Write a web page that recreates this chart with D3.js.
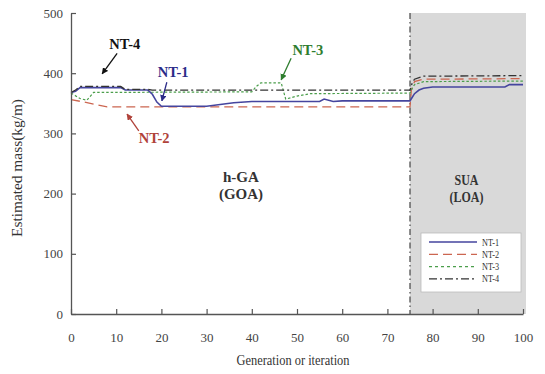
<!DOCTYPE html>
<html><head><meta charset="utf-8">
<script src="https://cdn.jsdelivr.net/npm/d3@7"></script>
<style>body{margin:0;background:#fff}svg{display:block}</style>
</head><body><svg id="c" width="545" height="374"></svg>
<script>
// ---- data ----
const xTicks = [0,10,20,30,40,50,60,70,80,90,100];
const yTicks = [0,100,200,300,400,500];
const seriesNames = ["NT-1","NT-2","NT-3","NT-4"];
const nt1Gen = [0,1,2,11,12,17,18,19,20,30,33,36,40,55,56,58,60,75,75.5,76,77,78,80,85,96,97,100];
const nt1Val = [368,370,376,376,372,372,365,352,345,345,348,351,353,353,357,353,354,354,360,366,372,375,377,377,377,381,381];
const nt2Gen = [0,3,6,8,75,75.3,76,78,100];
const nt2Val = [356,352,347,344,344,372,386,390,391];
const nt3Gen = [0,2,3.5,5,40,41,42,46.5,47.5,50,53,75,75.5,76,78,100];
const nt3Val = [367,358,355,368,369,378,384,384,357,362,366,367,375,381,386,387];
const nt4Gen = [0,1,2,11,12,17,18,75,75.5,76,78,100];
const nt4Val = [368,372,378,378,373,373,372,372,384,390,395,396];
const phaseSplit = 75;
const phaseLabels = [["h-GA","(GOA)"],["SUA","(LOA)"]];
const annNames = ["NT-4","NT-1","NT-2","NT-3"];
const annLabelGen = [11.9,22.6,18.4,52.4];
const annLabelVal = [448,402,292,438];
const annFromGen = [10.2,21.2,15.0,48.7];
const annFromVal = [433,385,304,425];
const annToGen = [6.9,20.1,12.4,46.5];
const annToVal = [399,354,332,389];

// ---- styles ----
const colors = {"NT-1":"#45459e","NT-2":"#cc6650","NT-3":"#4b9e4b","NT-4":"#333333"};
const dashes = {"NT-1":null,"NT-2":"9,5","NT-3":"2.5,2","NT-4":"8,3,2,3"};
const widths = {"NT-1":1.6,"NT-2":1.3,"NT-3":1.2,"NT-4":1.3};
const annColors = {"NT-4":"#111","NT-1":"#2b2b88","NT-2":"#b0423a","NT-3":"#2e7d2e"};

const svg = d3.select("#c");
const m = {l:71, r:22, t:13, b:60};
const W = 545, H = 374;
const x = d3.scaleLinear().domain([0,100]).range([m.l, W-m.r]);
const y = d3.scaleLinear().domain([0,500]).range([H-m.b, m.t]);
const serif = "'Liberation Serif','Times New Roman',Times,serif";

// gray SUA region
svg.append("rect").attr("x", x(phaseSplit)).attr("y", y(500))
  .attr("width", x(100)+3 - x(phaseSplit)).attr("height", y(0)-y(500))
  .attr("fill", "#d9d9d9");

// split line
svg.append("line").attr("x1", x(phaseSplit)).attr("x2", x(phaseSplit))
  .attr("y1", y(500)).attr("y2", y(0))
  .attr("stroke", "#444").attr("stroke-width", 1.2).attr("stroke-dasharray", "6,3,1.5,3");

// series
const data = {
  "NT-1": nt1Gen.map((g,i)=>[g,nt1Val[i]]),
  "NT-2": nt2Gen.map((g,i)=>[g,nt2Val[i]]),
  "NT-3": nt3Gen.map((g,i)=>[g,nt3Val[i]]),
  "NT-4": nt4Gen.map((g,i)=>[g,nt4Val[i]])
};
const line = d3.line().x(d=>x(d[0])).y(d=>y(d[1]));
["NT-2","NT-3","NT-1","NT-4"].forEach(n=>{
  svg.append("path").datum(data[n]).attr("d", line)
    .attr("fill","none").attr("stroke", colors[n]).attr("stroke-width", widths[n])
    .attr("stroke-dasharray", dashes[n]);
});

// axes
const xAxis = d3.axisBottom(x).tickValues(xTicks).tickSizeInner(-5).tickSizeOuter(0).tickPadding(19);
const yAxis = d3.axisLeft(y).tickValues(yTicks).tickSizeInner(-5).tickSizeOuter(0).tickPadding(8);
const gx = svg.append("g").attr("transform", `translate(0,${y(0)})`).call(xAxis);
const gy = svg.append("g").attr("transform", `translate(${x(0)},0)`).call(yAxis);
[gx,gy].forEach(g=>{
  g.select(".domain").attr("stroke","#555").attr("stroke-width",1.3);
  g.selectAll(".tick line").attr("stroke","#555").attr("stroke-width",1.2);
  g.selectAll(".tick text").attr("fill","#444").style("font-family",serif).style("font-size","13px");
});

// axis titles
svg.append("text").attr("x", 293).attr("y", 365).attr("text-anchor","middle")
  .style("font-family",serif).style("font-size","14px").attr("fill","#333")
  .attr("textLength",113).attr("lengthAdjust","spacingAndGlyphs")
  .text("Generation or iteration");
svg.append("text").attr("transform","translate(22,168) rotate(-90)").attr("text-anchor","middle")
  .style("font-family",serif).style("font-size","14px").attr("fill","#333")
  .attr("textLength",138).attr("lengthAdjust","spacingAndGlyphs")
  .text("Estimated mass(kg/m)");

// phase labels
const phaseSpec = [
  {g:37.6, base:182, lens:[36,44]},
  {g:87.5, base:185, lens:[24,34]}
];
phaseSpec.forEach((p,j)=>{
  phaseLabels[j].forEach((t,i)=>{
    svg.append("text").attr("x", x(p.g)).attr("y", p.base + i*17).attr("text-anchor","middle")
      .style("font-family",serif).style("font-size","14px").style("font-weight","bold").attr("fill","#333")
      .attr("textLength",p.lens[i]).attr("lengthAdjust","spacingAndGlyphs")
      .text(t);
  });
});

// annotations
const defs = svg.append("defs");
annNames.forEach((n,i)=>{
  const c = annColors[n];
  defs.append("marker").attr("id","ah"+i).attr("viewBox","0 0 10 10").attr("refX",9).attr("refY",5)
    .attr("markerWidth",5).attr("markerHeight",5).attr("orient","auto")
    .append("path").attr("d","M0,0L10,5L0,10z").attr("fill",c);
  svg.append("line").attr("x1",x(annFromGen[i])).attr("y1",y(annFromVal[i]))
    .attr("x2",x(annToGen[i])).attr("y2",y(annToVal[i]))
    .attr("stroke",c).attr("stroke-width",1.3).attr("marker-end","url(#ah"+i+")");
  svg.append("text").attr("x",x(annLabelGen[i])).attr("y",y(annLabelVal[i])+5)
    .attr("text-anchor","middle").style("font-family",serif).style("font-size","14.5px")
    .style("font-weight","bold").attr("fill",c).text(n);
});

// legend
const lg = svg.append("g");
lg.append("rect").attr("x",421).attr("y",233).attr("width",100).attr("height",59)
  .attr("fill","#fff").attr("stroke","#bbb").attr("stroke-width",0.8);
seriesNames.forEach((n,i)=>{
  const yy = 242 + i*12.3;
  lg.append("line").attr("x1",429).attr("x2",477).attr("y1",yy).attr("y2",yy)
    .attr("stroke",colors[n]).attr("stroke-width",widths[n]).attr("stroke-dasharray", n==="NT-3" ? "3,3" : dashes[n]);
  lg.append("text").attr("x",482).attr("y",yy+3.5).style("font-family",serif).style("font-size","10.5px")
    .attr("textLength",17).attr("lengthAdjust","spacingAndGlyphs")
    .attr("fill","#333").text(n);
});
</script></body></html>
